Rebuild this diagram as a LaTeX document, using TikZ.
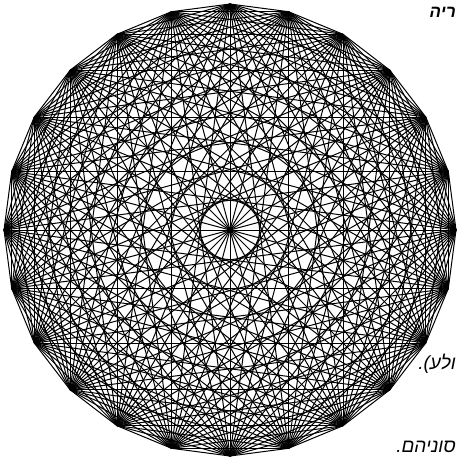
\documentclass[tikz,border=0pt]{standalone}
\usepackage{fontspec}
\newfontfamily\hebfont[Script=Hebrew]{Liberation Sans}
\TeXXeTstate=1
\tikzset{
  edge/.style={line width=1pt, black},
  heb/.style={font=\hebfont\itshape\fontsize{19}{19}\selectfont,
              inner sep=0pt, anchor=base east},
}

\begin{document}
\begin{tikzpicture}[x=1pt,y=-1pt]
  \useasboundingbox (0,0) rectangle (457,456);
  \coordinate (c) at (230,230);
  % 24 vertices on the circle
  \foreach \i in {1,...,24}
    \coordinate (v\i) at ({230+226*cos(15*\i)},{230+226*sin(15*\i)});
  % every pair joined
  \foreach \i in {1,...,23} {
    \pgfmathtruncatemacro\nxt{\i+1}
    \foreach \j in {\nxt,...,24}
      \draw[edge] (v\i) -- (v\j);
  }
  \node[heb, font=\hebfont\bfseries\itshape\fontsize{17}{17}\selectfont] (txa) at (456,17) {\beginR ריה\endR};
  \node[heb] (txb) at (456,369) {\beginR ולע).\endR};
  \node[heb] (txc) at (456,452) {\beginR סוניהם.\endR};
\end{tikzpicture}
\end{document}
